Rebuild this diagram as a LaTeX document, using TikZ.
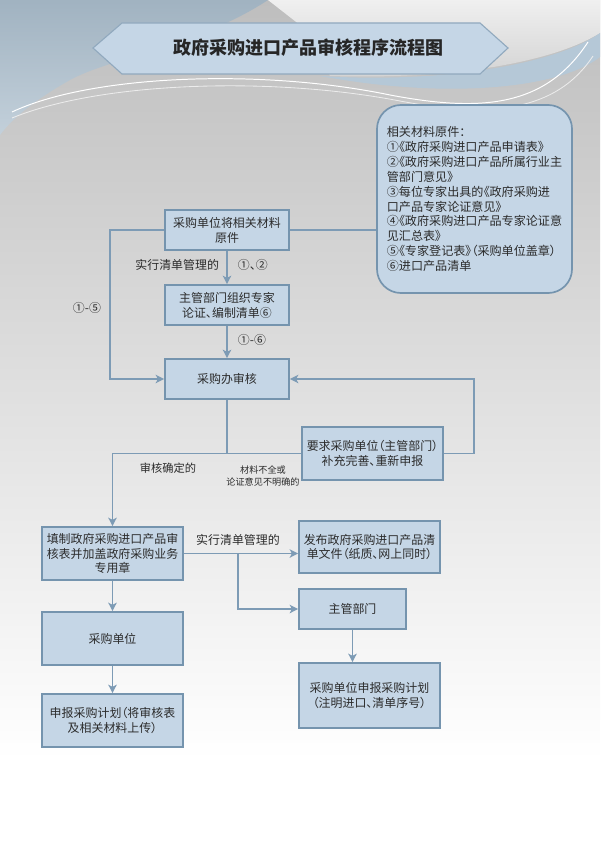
\documentclass[tikz,border=0pt]{standalone}
\usepackage{fontspec}
\setmainfont{Noto Sans CJK SC}[RawFeature=+palt]
\usepackage{xcolor}
\usetikzlibrary{arrows.meta}
\definecolor{boxfill}{HTML}{C5D6E6}
\definecolor{boxline}{HTML}{7594AE}
\definecolor{flowline}{HTML}{7D9BB5}
\definecolor{inkgray}{HTML}{2B2B2B}
\definecolor{bgtop}{HTML}{BEBEBE}
\definecolor{swoosh}{HTML}{A9BCCB}
\definecolor{band}{HTML}{B5C8D7}

\begin{document}
\begin{tikzpicture}[x=0.025cm, y=-0.025cm,
  every node/.style={font=\fontsize{8.5}{10.6}\selectfont, text=inkgray},
  box/.style={draw=boxline, fill=boxfill, line width=1.2pt, align=center, inner sep=1pt},
  flow/.style={draw=flowline, line width=1.3pt},
  arrow/.style={flow, -{Stealth[length=6pt,width=6pt,inset=1.5pt]}},
  small/.style={font=\fontsize{6.5}{8.6}\selectfont, align=center}]
  \useasboundingbox (0,0) rectangle (600,847);
  % background
  \shade[top color=bgtop, bottom color=white] (0,0) rectangle (600,760);
  \fill[white] (0,760) rectangle (600,847);
  \shade[top color=gray!12, bottom color=gray!35] (268,0) -- (600,0) -- (600,33)
    .. controls (560,58) and (470,80) .. (330,76) -- (300,25) -- cycle;
  \shade[top color=swoosh!95!black, bottom color=swoosh!70!white] (0,0) -- (268,0)
    .. controls (200,45) and (110,58) .. (70,80) .. controls (40,97) and (15,115) .. (0,135) -- cycle;
  \fill[band] (320,76) .. controls (450,84) and (560,62) .. (600,33) -- (600,57)
    .. controls (560,88) and (450,100) .. (320,76) -- cycle;
  \draw[white, line width=0.7pt] (12,112) .. controls (90,75) and (260,68) .. (390,95)
    .. controls (480,112) and (545,108) .. (588,42);
  \draw[white!85!gray, line width=0.6pt] (12,118) .. controls (100,82) and (270,76) .. (400,101)
    .. controls (490,118) and (556,112) .. (593,56);
  % title banner
  \draw[fill=boxfill, draw=boxline!80, line width=0.8pt]
    (93,48) -- (122,23) -- (480,23) -- (508,48) -- (480,74) -- (122,74) -- cycle;
  \node[font=\fontsize{12.8}{15}\selectfont\bfseries, text=black!85] (title) at (308,48)
    {政府采购进口产品审核程序流程图};
  % materials
  \node[box, rounded corners=0.6cm, align=left, minimum width=4.875cm, minimum height=4.7cm,
    font=\fontsize{8.6}{10.6}\selectfont] (mat) at (474.5,199)
    {相关材料原件：\\①《政府采购进口产品申请表》\\②《政府采购进口产品所属行业主\\管部门意见》\\
     ③每位专家出具的《政府采购进\\口产品专家论证意见》\\④《政府采购进口产品专家论证意\\
     见汇总表》\\⑤《专家登记表》（采购单位盖章）\\⑥进口产品清单};
  % boxes
  \node[box, minimum width=3.1cm, minimum height=1cm] (A) at (227,230) {采购单位将相关材料\\原件};
  \node[box, minimum width=3.1cm, minimum height=1cm] (B) at (227,305) {主管部门组织专家\\论证、编制清单⑥};
  \node[box, minimum width=3.1cm, minimum height=1cm] (C) at (227,379) {采购办审核};
  \node[box, minimum width=3.525cm, minimum height=1.325cm] (D) at (372.5,453.5)
    {要求采购单位（主管部门）\\补充完善、重新申报};
  \node[box, minimum width=3.525cm, minimum height=1.325cm] (E) at (112.5,553.5)
    {填制政府采购进口产品审\\核表并加盖政府采购业务\\专用章};
  \node[box, minimum width=3.525cm, minimum height=1.3cm] (F) at (369.5,547)
    {发布政府采购进口产品清\\单文件（纸质、网上同时）};
  \node[box, minimum width=2.675cm, minimum height=1cm] (G) at (352.5,609) {主管部门};
  \node[box, minimum width=3.525cm, minimum height=1.625cm] (H) at (369.5,695.5)
    {采购单位申报采购计划\\（注明进口、清单序号）};
  \node[box, minimum width=3.525cm, minimum height=1.325cm] (I) at (112.5,638.5) {采购单位};
  \node[box, minimum width=3.525cm, minimum height=1.325cm] (J) at (112.5,720.5)
    {申报采购计划（将审核表\\及相关材料上传）};
  % labels
  \node[anchor=east] (lblA) at (224,265) {实行清单管理的};
  \node[anchor=west] (lblB) at (233,265) {①、②};
  \node[anchor=west] (lblC) at (233,340) {①-⑥};
  \node (lblL) at (87,308) {①-⑤};
  \node[font=\fontsize{8}{10}\selectfont] (lblOk) at (168,468) {审核确定的};
  \node[small] (lblBad) at (263,476) {材料不全或\\论证意见不明确的};
  \node (lblE) at (238,540) {实行清单管理的};
  % connectors
  \coordinate (bendL) at (110,379);
  \coordinate (bendR) at (474,379);
  \draw[flow] (A.east) -- (A.east -| mat.west);
  \draw[arrow] (A) -- (B);
  \draw[arrow] (B) -- (C);
  \draw[arrow] (A.west) -| (bendL) -- (C.west);
  \draw[flow] (C) -- (C |- D.west);
  \draw[arrow] (D.west) -| (E.north);
  \draw[arrow] (D.east) -| (bendR) -- (C.east);
  \draw[arrow] (E.east) -- (E.east -| F.west);
  \draw[arrow] (E.east -| lblE) |- (G.west);
  \draw[arrow] (G) -- (G |- H.north);
  \draw[arrow] (E) -- (I);
  \draw[arrow] (I) -- (J);
\end{tikzpicture}
\end{document}
